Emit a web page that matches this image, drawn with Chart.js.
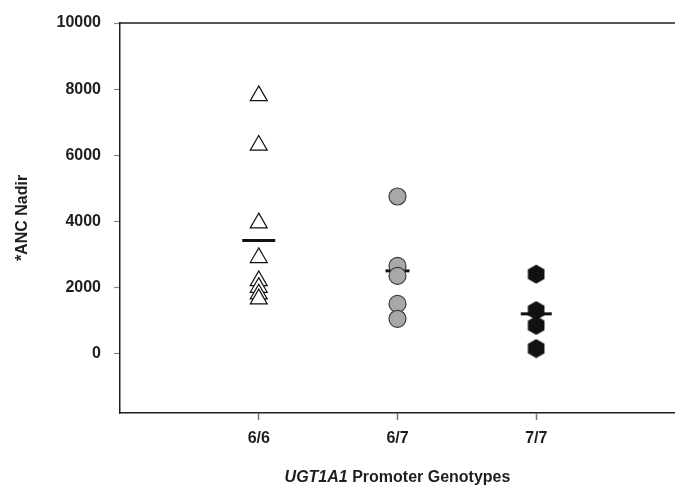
<!DOCTYPE html>
<html>
<head>
<meta charset="utf-8">
<script src="https://cdn.jsdelivr.net/npm/chart.js@4.4.1/dist/chart.umd.min.js"></script>
<style>
  html, body { margin: 0; padding: 0; background: #fff; }
  #wrap { width: 675px; height: 492px; position: relative; }
</style>
</head>
<body>
<div id="wrap"><canvas id="ancChart"></canvas></div>
<script>
// ---------- DATA ----------
const genotypes = ["6/6", "6/7", "7/7"];
const anc66 = [7800, 6300, 3950, 2900, 2200, 2000, 1800, 1650];
const anc67 = [4750, 2650, 2350, 1500, 1050];
const anc77 = [2400, 1300, 850, 150];
const means = [3420, 2500, 1200];
const yTicks = [0, 2000, 4000, 6000, 8000, 10000];

const FONT = '"Liberation Sans", Arial, sans-serif';
const INK = "#1e1e1e";

// hexagon marker for 7/7
function hexMarker() {
  const c = document.createElement("canvas");
  c.width = 18; c.height = 20;
  const g = c.getContext("2d");
  g.fillStyle = "#111";
  g.beginPath();
  for (let i = 0; i < 6; i++) {
    const a = Math.PI / 3 * i - Math.PI / 2;
    const px = 9 + Math.cos(a) * 9.6;
    const py = 10 + Math.sin(a) * 9.6;
    if (i === 0) g.moveTo(px, py); else g.lineTo(px, py);
  }
  g.closePath();
  g.fill();
  return c;
}

const pts = (arr, x) => arr.map(v => ({ x: x, y: v }));

// top frame line + x title with italic gene name
const framePlugin = {
  id: "frame",
  afterDraw(chart) {
    const ctx = chart.ctx, a = chart.chartArea;
    ctx.save();
    ctx.strokeStyle = INK;
    ctx.lineWidth = 1.5;
    ctx.beginPath();
    ctx.moveTo(a.left - 1, a.top);
    ctx.lineTo(a.right, a.top);
    ctx.stroke();

    const gene = "UGT1A1", rest = " Promoter Genotypes";
    ctx.font = "italic bold 16px " + FONT;
    const w1 = ctx.measureText(gene).width;
    ctx.font = "bold 16px " + FONT;
    const w2 = ctx.measureText(rest).width;
    let x = (a.left + a.right) / 2 - (w1 + w2) / 2;
    const y = a.bottom + 65;
    ctx.fillStyle = INK;
    ctx.textBaseline = "middle";
    ctx.font = "italic bold 16px " + FONT;
    ctx.fillText(gene, x, y);
    ctx.font = "bold 16px " + FONT;
    ctx.fillText(rest, x + w1, y);
    ctx.restore();
  }
};

new Chart(document.getElementById("ancChart"), {
  type: "scatter",
  data: {
    datasets: [
      {
        label: "6/6",
        data: pts(anc66, 1),
        pointStyle: "triangle",
        radius: 9.8,
        backgroundColor: "#fff",
        borderColor: "#111",
        borderWidth: 1.2
      },
      {
        label: "6/7",
        data: pts(anc67, 2),
        pointStyle: "circle",
        radius: 8.5,
        backgroundColor: "#a8a8a8",
        borderColor: "#3a3a3a",
        borderWidth: 1.2
      },
      {
        label: "7/7",
        data: pts(anc77, 3),
        pointStyle: hexMarker(),
        radius: 9
      },
      {
        label: "Mean",
        data: means.map((v, i) => ({ x: i + 1, y: v })),
        pointStyle: "line",
        radius: [16.5, 12, 15.5],
        borderColor: "#111",
        borderWidth: 3
      }
    ]
  },
  options: {
    responsive: true,
    maintainAspectRatio: false,
    animation: false,
    events: [],
    layout: { autoPadding: false, padding: { top: 23, right: 0, left: 0, bottom: 0 } },
    plugins: { legend: { display: false }, tooltip: { enabled: false } },
    scales: {
      x: {
        type: "linear",
        min: 0,
        max: 4,
        afterBuildTicks: axis => { axis.ticks = genotypes.map((g, i) => ({ value: i + 1 })); },
        afterFit: s => { s.height = 79; },
        ticks: {
          callback: v => genotypes[v - 1] || "",
          color: INK,
          font: { family: FONT, size: 16, weight: "bold" },
          padding: 9,
          maxRotation: 0
        },
        grid: { display: true, drawOnChartArea: false, tickLength: 7, color: "#777", tickWidth: 1.5 },
        border: { display: true, color: INK, width: 1.5 }
      },
      y: {
        min: -1800,
        max: 10000,
        afterBuildTicks: axis => { axis.ticks = yTicks.map(v => ({ value: v })); },
        afterFit: s => { s.width = 120; },
        ticks: {
          callback: v => String(v),
          color: INK,
          font: { family: FONT, size: 16, weight: "bold" },
          padding: 13
        },
        grid: { display: true, drawOnChartArea: false, tickLength: 6, color: "#888", tickWidth: 1.2 },
        border: { display: true, color: INK, width: 1.5 },
        title: {
          display: true,
          text: "*ANC Nadir",
          color: INK,
          font: { family: FONT, size: 16, weight: "bold" },
          padding: { top: 13, bottom: 0 }
        }
      }
    }
  },
  plugins: [framePlugin]
});
</script>
</body>
</html>
